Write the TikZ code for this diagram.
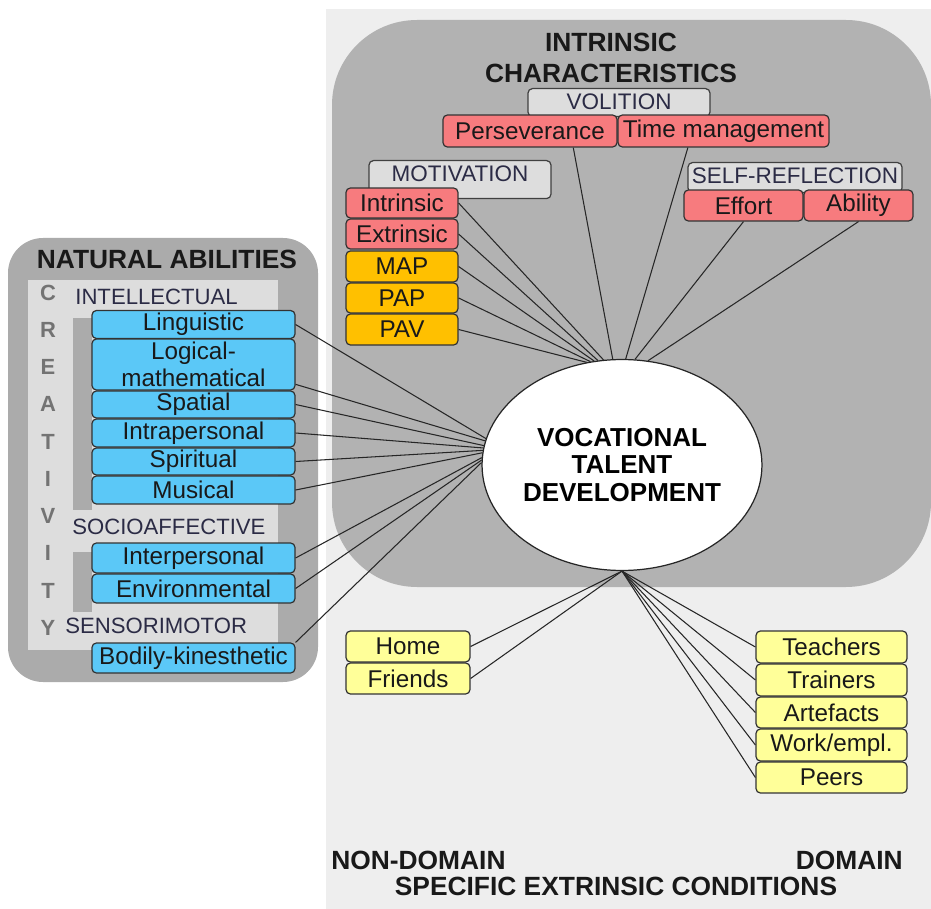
\documentclass[tikz,border=0pt]{standalone}
\usepackage{fontspec}
\setmainfont{Liberation Sans}
\usepackage{xcolor}
\usepackage{tikz}
\usetikzlibrary{arrows.meta}
\usetikzlibrary{shapes.geometric}
\usetikzlibrary{positioning}

\definecolor{bglight}{HTML}{EEEEEE}
\definecolor{panelgray}{HTML}{B2B2B2}
\definecolor{leftgray}{HTML}{ABABAB}
\definecolor{lblgray}{HTML}{DDDDDD}
\definecolor{redfill}{HTML}{F77B7E}
\definecolor{orgfill}{HTML}{FFC000}
\definecolor{bluefill}{HTML}{5BC8F7}
\definecolor{ylwfill}{HTML}{FFFF99}
\definecolor{lbltext}{HTML}{2B2B45}

\tikzset{>=latex}
\tikzstyle{cbox} = [rectangle, rounded corners=2.5pt, draw=black!80, line width=0.7pt, inner sep=0pt, align=center, text=black!90, font=\fontsize{13.8}{15}\selectfont]
\tikzstyle{redbox} = [cbox, fill=redfill]
\tikzstyle{orgbox} = [cbox, fill=orgfill]
\tikzstyle{bluebox} = [cbox, fill=bluefill, minimum width=4.06cm]
\tikzstyle{ylwbox} = [cbox, fill=ylwfill]
\tikzstyle{lblbox} = [rectangle, rounded corners=2.5pt, draw=black!75, line width=0.7pt, fill=lblgray, anchor=north, inner xsep=0pt, inner ysep=3pt, text height=9pt, text=lbltext, font=\fontsize{12.8}{14}\selectfont]
\tikzstyle{sublbl} = [anchor=west, inner sep=0pt, text=lbltext, font=\fontsize{12.6}{14}\selectfont]
\tikzstyle{ttl} = [inner sep=0pt, align=center, text=black!90, font=\fontsize{15}{17.6}\selectfont\bfseries]
\tikzstyle{conn} = [-, line width=0.6pt, draw=black!85]

\begin{document}
\begin{tikzpicture}[x=0.02cm, y=-0.02cm]
\useasboundingbox (0,0) rectangle (931,909);

\fill [bglight] (326,9) rectangle (931,909);
\fill [panelgray, rounded corners=1.7cm] (332,20) rectangle (931,587);
\fill [leftgray, rounded corners=0.7cm] (8,238) rectangle (318,682);
\fill [lblgray] (28,280) rectangle (278,650);
\fill [leftgray] (73,318) rectangle (92,510);
\fill [leftgray] (73,552) rectangle (92,612);

\node [ttl] (intrttl) at (611,58) {INTRINSIC\\CHARACTERISTICS};
\node [ttl] (natttl) at (167,259) {NATURAL ABILITIES};
\node [ttl, anchor=west] (nondom) at (331,860) {NON-DOMAIN};
\node [ttl, anchor=east] (dom) at (903,860) {DOMAIN};
\node [ttl] (specttl) at (616,886) {SPECIFIC EXTRINSIC CONDITIONS};

\node [lblbox, minimum width=3.64cm, text depth=0.9pt] (volit) at (619,88) {VOLITION};
\node [lblbox, minimum width=3.64cm, text depth=6.6pt] (motiv) at (460,160) {MOTIVATION};
\node [lblbox, minimum width=4.28cm, text depth=2pt] (selfr) at (795,162) {SELF-REFLECTION};

\node [redbox, minimum width=3.48cm, minimum height=0.64cm] (pers) at (530,131) {Perseverance};
\node [redbox, minimum width=4.22cm, minimum height=0.64cm] (time) at (723.5,131) {Time management};
\node [redbox, minimum width=2.24cm, minimum height=0.6cm] (intr) at (402,203) {Intrinsic};
\node [redbox, minimum width=2.24cm, minimum height=0.6cm] (extr) at (402,234) {Extrinsic};
\node [orgbox, minimum width=2.24cm, minimum height=0.62cm] (map) at (402,266.5) {MAP};
\node [orgbox, minimum width=2.24cm, minimum height=0.6cm] (pap) at (402,298) {PAP};
\node [orgbox, minimum width=2.24cm, minimum height=0.62cm] (pav) at (402,329.5) {PAV};
\node [redbox, minimum width=2.38cm, minimum height=0.62cm] (effort) at (743.5,205.5) {Effort};
\node [redbox, minimum width=2.18cm, minimum height=0.62cm] (ability) at (858.5,205.5) {Ability};

\node [inner sep=0pt, align=center, text=black!55, font=\fontsize{12.5}{21.2}\selectfont\bfseries] (creat) at (48,460) {C\\R\\E\\A\\T\\I\\V\\I\\T\\Y};
\node [sublbl] (intell) at (75,297) {INTELLECTUAL};
\node [sublbl] (socio) at (72,527) {SOCIOAFFECTIVE};
\node [sublbl] (senso) at (65,626) {SENSORIMOTOR};

\node [bluebox, minimum height=0.56cm] (ling) at (193.5,324.5) {Linguistic};
\node [bluebox, minimum height=1.02cm] (logi) at (193.5,364.5) {Logical-\\mathematical};
\node [bluebox, minimum height=0.54cm] (spat) at (193.5,404.5) {Spatial};
\node [bluebox, minimum height=0.56cm] (intra) at (193.5,433) {Intrapersonal};
\node [bluebox, minimum height=0.54cm] (spir) at (193.5,461.5) {Spiritual};
\node [bluebox, minimum height=0.56cm] (musi) at (193.5,490) {Musical};
\node [bluebox, minimum height=0.6cm] (inter) at (193.5,558) {Interpersonal};
\node [bluebox, minimum height=0.58cm] (envi) at (193.5,588.5) {Environmental};
\node [bluebox, minimum height=0.6cm] (bodi) at (193.5,658) {Bodily-kinesthetic};

\node [ylwbox, minimum width=2.48cm, minimum height=0.62cm] (home) at (408,646.5) {Home};
\node [ylwbox, minimum width=2.48cm, minimum height=0.62cm] (frie) at (408,678.5) {Friends};
\node [ylwbox, minimum width=3.02cm, minimum height=0.64cm] (teach) at (831.5,647) {Teachers};
\node [ylwbox, minimum width=3.02cm, minimum height=0.64cm] (train) at (831.5,680) {Trainers};
\node [ylwbox, minimum width=3.02cm, minimum height=0.62cm] (arte) at (831.5,712.5) {Artefacts};
\node [ylwbox, minimum width=3.02cm, minimum height=0.64cm] (work) at (831.5,745) {Work/empl.};
\node [ylwbox, minimum width=3.02cm, minimum height=0.62cm] (peer) at (831.5,777.5) {Peers};

\node [ellipse, draw=black!85, line width=0.7pt, fill=white, inner sep=0pt, minimum width=5.26cm, minimum height=4.22cm, align=center, font=\fontsize{14.8}{15.9}\selectfont\bfseries] (vtd) at (622,465) {VOCATIONAL\\TALENT\\DEVELOPMENT};

\draw [conn] (intr.east) -- (vtd.100);
\draw [conn] (extr.east) -- (vtd.103);
\draw [conn] (map.east) -- (vtd.105);
\draw [conn] (pap.east) -- (vtd.107);
\draw [conn] (pav.east) -- (vtd.109);
\draw [conn] (pers.-21) -- (vtd.95);
\draw [conn] (time.205) -- (vtd.88);
\draw [conn] (effort.south) -- (vtd.83);
\draw [conn] (ability.south) -- (vtd.76);

\draw [conn] (ling.east) -- (vtd.169);
\draw [conn] (logi.-11) -- (vtd.170.5);
\draw [conn] (spat.east) -- (vtd.172);
\draw [conn] (intra.east) -- (vtd.173);
\draw [conn] (spir.east) -- (vtd.174.5);
\draw [conn] (musi.east) -- (vtd.175.5);
\draw [conn] (inter.east) -- (vtd.177);
\draw [conn] (envi.east) -- (vtd.178);
\draw [conn] (bodi.north east) -- (vtd.179.5);

\draw [conn] (home.east) -- (vtd.south);
\draw [conn] (frie.east) -- (vtd.south);
\draw [conn] (teach.west) -- (vtd.south);
\draw [conn] (train.west) -- (vtd.south);
\draw [conn] (arte.west) -- (vtd.south);
\draw [conn] (work.west) -- (vtd.south);
\draw [conn] (peer.west) -- (vtd.south);
\end{tikzpicture}
\end{document}
